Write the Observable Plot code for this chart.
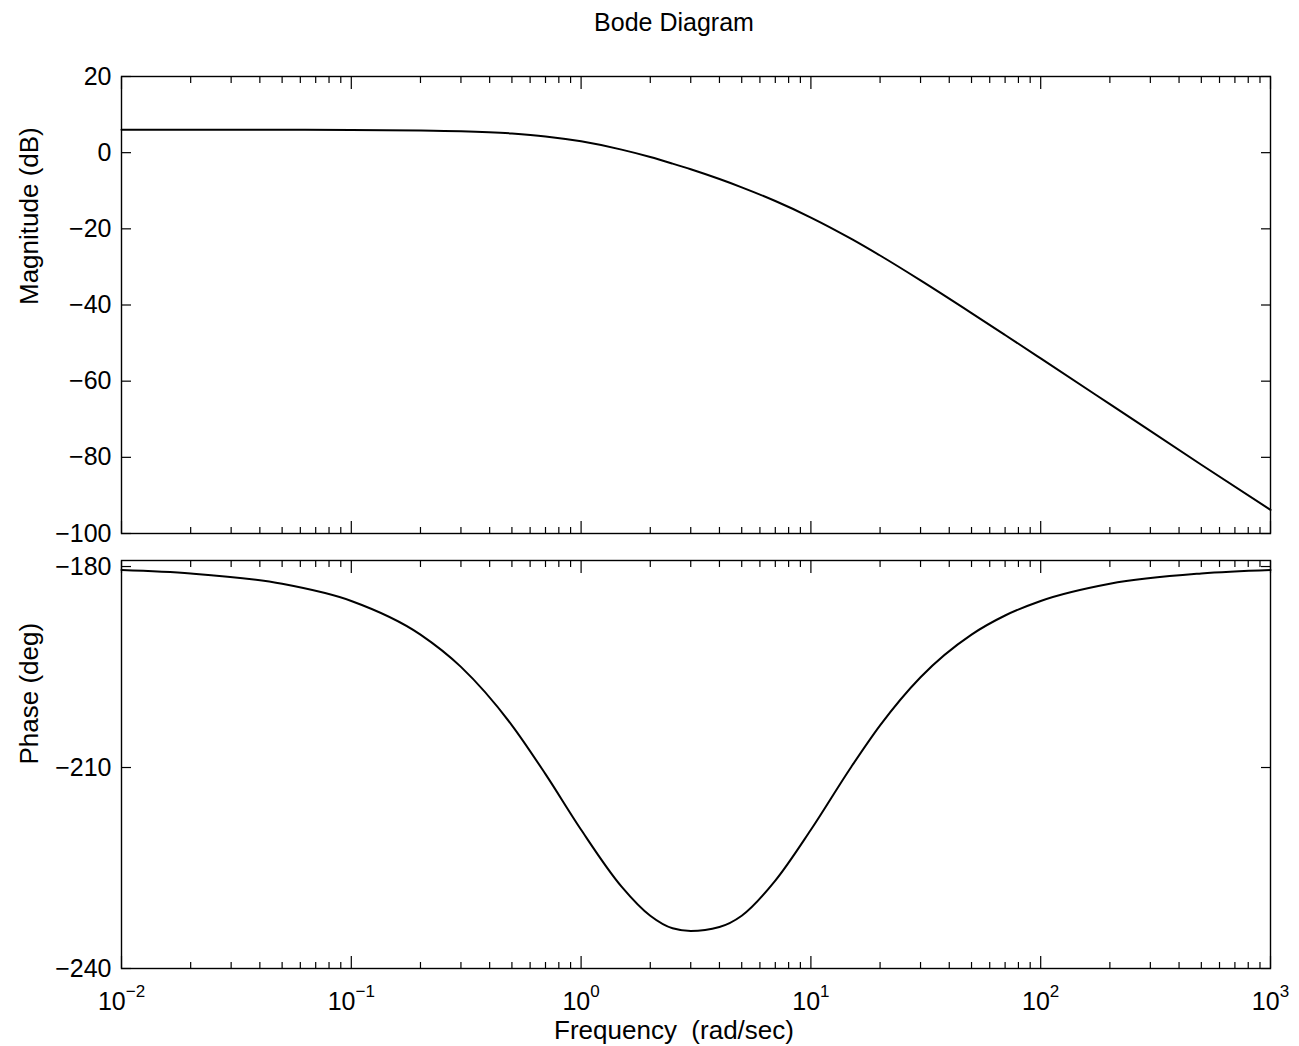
<!DOCTYPE html>
<html>
<head>
<meta charset="utf-8">
<script src="https://cdn.jsdelivr.net/npm/d3@7"></script>
<script src="https://cdn.jsdelivr.net/npm/@observablehq/plot@0.6"></script>
<style>
  body { margin: 0; background: #fff; }
  #chart { width: 1299px; height: 1046px; position: relative; }
  #chart svg { display: block; }
</style>
</head>
<body>
<div id="chart"></div>
<script>
// ---- data ----
const frequency = [0.01, 0.02, 0.05, 0.1, 0.2, 0.3, 0.5, 0.7, 1, 1.5, 2, 2.5, 3, 4, 5, 7, 10, 15, 20, 30, 50, 70, 100, 200, 500, 1000];
const magnitudeDb = [6.02, 6.02, 6.01, 5.98, 5.85, 5.64, 5.04, 4.27, 2.97, 0.80, -1.14, -2.87, -4.35, -6.93, -9.10, -12.70, -17.03, -22.64, -27.00, -33.53, -42.11, -47.87, -54.02, -66.03, -81.94, -93.8];
const phaseDeg = [-180.52, -181.03, -182.58, -185.14, -190.16, -194.98, -203.70, -210.99, -219.29, -227.78, -232.13, -234.0, -234.4, -233.8, -232.12, -226.88, -219.29, -209.88, -203.71, -196.52, -190.16, -187.31, -185.14, -182.57, -181.03, -180.51];

const magnitudeTicks = [-100, -80, -60, -40, -20, 0, 20];
const phaseTicks = [-240, -210, -180];
const decadeTicks = [0.01, 0.1, 1, 10, 100, 1000];
const decadeExponents = ["−2", "−1", "0", "1", "2", "3"];
const minorMultipliers = [2, 3, 4, 5, 6, 7, 8, 9];
const titleText = "Bode Diagram";
const magLabel = "Magnitude (dB)";
const phaseLabel = "Phase (deg)";
const freqLabel = "Frequency  (rad/sec)";

const minorTicks = decadeTicks.slice(0, -1).flatMap(d => minorMultipliers.map(m => m * d));
const magData = frequency.map((w, i) => ({w, v: magnitudeDb[i]}));
const phaseData = frequency.map((w, i) => ({w, v: phaseDeg[i]}));

const FONT = "'Liberation Sans', Arial, Helvetica, sans-serif";
const W = 1299, ML = 121, MR = 29;
const TICK_FS = 25, LABEL_FS = 26, TITLE_FS = 25;
const blank = () => "";

function frameTicks(yTicks) {
  return [
    Plot.axisX(decadeTicks, {anchor: "bottom", tickSize: -12, tickFormat: blank, label: null, strokeWidth: 1.2}),
    Plot.axisX(minorTicks, {anchor: "bottom", tickSize: -6, tickFormat: blank, label: null, strokeWidth: 1.2}),
    Plot.axisX(decadeTicks, {anchor: "top", tickSize: -12, tickFormat: blank, label: null, strokeWidth: 1.2}),
    Plot.axisX(minorTicks, {anchor: "top", tickSize: -6, tickFormat: blank, label: null, strokeWidth: 1.2}),
    Plot.axisY(yTicks, {anchor: "left", tickSize: -10, tickFormat: blank, label: null, strokeWidth: 1.2}),
    Plot.axisY(yTicks, {anchor: "right", tickSize: -10, tickFormat: blank, label: null, strokeWidth: 1.2}),
    Plot.axisY(yTicks, {anchor: "left", tickSize: 0, tickPadding: 10, label: null, fontSize: TICK_FS})
  ];
}

const magPlot = Plot.plot({
  width: W, height: 545,
  marginLeft: ML, marginRight: MR, marginTop: 76, marginBottom: 12,
  style: {fontFamily: FONT, fontSize: TICK_FS + "px", color: "black", background: "white", overflow: "visible"},
  x: {type: "log", domain: [0.01, 1000]},
  y: {domain: [-100, 20]},
  marks: [
    ...frameTicks(magnitudeTicks),
    Plot.frame({stroke: "black", strokeWidth: 1.4}),
    Plot.line(magData, {x: "w", y: "v", stroke: "black", strokeWidth: 2, curve: "monotone-x"}),
    Plot.text([titleText], {frameAnchor: "top", dy: -46, lineAnchor: "bottom", dx: -22, fontSize: TITLE_FS, fill: "black"}),
    Plot.text([magLabel], {frameAnchor: "left", dx: -92, rotate: -90, fontSize: LABEL_FS, fill: "black"})
  ]
});

const phasePlot = Plot.plot({
  width: W, height: 501,
  marginLeft: ML, marginRight: MR, marginTop: 15, marginBottom: 78,
  style: {fontFamily: FONT, fontSize: TICK_FS + "px", color: "black", background: "white", overflow: "visible"},
  x: {type: "log", domain: [0.01, 1000]},
  y: {domain: [-240, -179.1]},
  marks: [
    ...frameTicks(phaseTicks),
    Plot.axisX(decadeTicks, {anchor: "bottom", tickSize: 0, tickPadding: 24, label: null, fontSize: TICK_FS,
      tickFormat: d => "10^" + decadeExponents[decadeTicks.indexOf(d)]}),
    Plot.frame({stroke: "black", strokeWidth: 1.4}),
    Plot.line(phaseData, {x: "w", y: "v", stroke: "black", strokeWidth: 2, curve: "monotone-x"}),
    Plot.text([phaseLabel], {frameAnchor: "left", dx: -92, rotate: -90, fontSize: LABEL_FS, fill: "black"}),
    Plot.text([freqLabel], {frameAnchor: "bottom", dx: -22, dy: 70, lineAnchor: "bottom", fontSize: LABEL_FS, fill: "black"})
  ]
});

// turn "10^e" tick labels into a base with a raised exponent
d3.select(phasePlot).selectAll('g[aria-label="x-axis tick label"] text').each(function() {
  const s = this.textContent;
  if (!s.includes("^")) return;
  const [base, exp] = s.split("^");
  const t = d3.select(this);
  t.text(null);
  t.append("tspan").text(base);
  t.append("tspan").attr("dy", "-13").attr("font-size", "17px").text(exp);
});

document.getElementById("chart").append(magPlot, phasePlot);
</script>
</body>
</html>
